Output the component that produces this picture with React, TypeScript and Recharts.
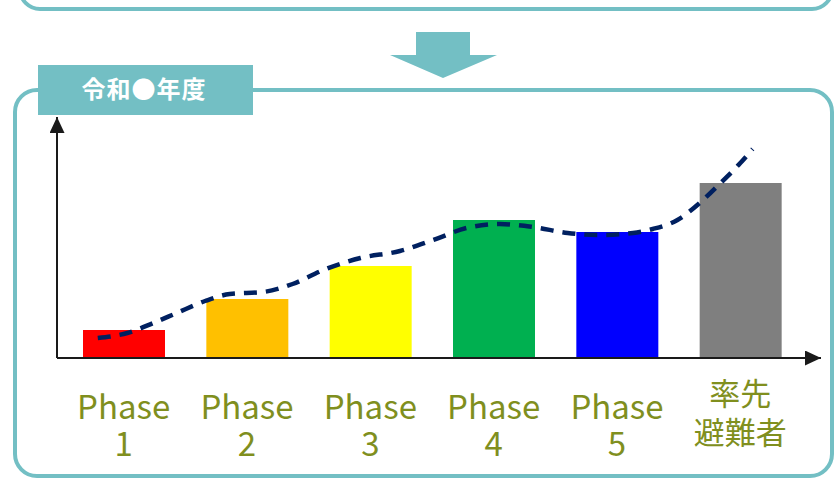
import React from 'react';
import { ComposedChart, Bar, Line, XAxis, YAxis, Cell } from 'recharts';

// bar categories and heights (y axis runs 0..241)
const categories = ['Phase 1', 'Phase 2', 'Phase 3', 'Phase 4', 'Phase 5', '率先避難者'];
const barValues = [28, 59, 92, 138, 126, 175];
const barColors = ['#FF0000', '#FFC000', '#FFFF00', '#00B050', '#0000FF', '#7F7F7F'];

// tick labels, two lines each
const tickLines = [
  ['Phase', '1'],
  ['Phase', '2'],
  ['Phase', '3'],
  ['Phase', '4'],
  ['Phase', '5'],
  ['率先', '避難者'],
];

// dashed trend curve: x is the category position (0 = first bar centre)
const trendX = [-0.21, 0.03, 0.24, 0.43, 0.66, 0.86, 1.13, 1.37, 1.62, 1.92, 2.24, 2.51, 2.78, 3.05, 3.32, 3.6, 3.86, 4.13, 4.29, 4.49, 4.67, 4.84, 5.0, 5.1];
const trendY = [20, 25, 35, 45, 57, 64, 66, 74, 88, 100, 107, 118, 130, 134, 131, 125, 123, 125, 129, 138, 155, 175, 195, 209];

const barData = categories.map((name, i) => ({ name, value: barValues[i] }));
const trendData = trendX.map((x, i) => ({ x, y: trendY[i] }));

const TEAL = '#73BFC4';
const OLIVE = '#808F1E';
const AXIS = '#1a1a1a';

const PhaseTick = (props: any) => {
  const { x, y, payload } = props;
  const lines = tickLines[payload.index] || [payload.value, ''];
  const isCjk = payload.index === 5;
  return (
    <text
      x={x}
      y={y + (isCjk ? 47 : 61)}
      textAnchor="middle"
      fill={OLIVE}
      fontSize={isCjk ? 31 : 33}
      fontFamily="'Noto Sans CJK JP', sans-serif"
    >
      <tspan x={x}>{lines[0]}</tspan>
      <tspan x={x} dy={isCjk ? 39 : 37}>{lines[1]}</tspan>
    </text>
  );
};

export default function App() {
  return (
    <div style={{ position: 'absolute', left: 0, top: 0, width: 834, height: 479, background: '#fff', overflow: 'hidden' }}>
      <svg width={0} height={0} style={{ position: 'absolute' }}>
        <defs>
          <marker
            id="arrowHead"
            viewBox="0 0 16 15"
            refX={16}
            refY={7.5}
            markerWidth={16}
            markerHeight={15}
            markerUnits="userSpaceOnUse"
            orient="auto-start-reverse"
          >
            <path d="M0,0 L16,7.5 L0,15 Z" fill={AXIS} />
          </marker>
        </defs>
      </svg>

      {/* frames, down arrow and title tab */}
      <svg width={834} height={479} style={{ position: 'absolute', left: 0, top: 0 }}>
        <rect x={20} y={-100} width={812} height={109} rx={20} fill="none" stroke={TEAL} strokeWidth={4} />
        <polygon points="416,32 470,32 470,55 497,55 443,78 390,55 416,55" fill={TEAL} />
        <rect x={15} y={90} width={817} height={386} rx={22} fill="none" stroke={TEAL} strokeWidth={4} />
        <rect x={38} y={65} width={215} height={50} fill={TEAL} />
        <text
          x={144}
          y={98}
          textAnchor="middle"
          fill="#fff"
          fontSize={24}
          fontWeight="bold"
          letterSpacing={1}
          fontFamily="'Noto Sans CJK JP', sans-serif"
        >
          令和●年度
        </text>
      </svg>

      <div style={{ position: 'absolute', left: 0, top: 0 }}>
        <ComposedChart width={834} height={479} data={barData} margin={{ top: 117, right: 13, bottom: 21, left: 56 }}>
          <XAxis
            xAxisId="cat"
            dataKey="name"
            type="category"
            height={100}
            interval={0}
            padding={{ left: 5, right: 19 }}
            axisLine={{ stroke: AXIS, strokeWidth: 2, markerEnd: 'url(#arrowHead)' }}
            tickLine={false}
            tickSize={0}
            tickMargin={0}
            tick={<PhaseTick />}
          />
          <XAxis
            xAxisId="num"
            dataKey="x"
            type="number"
            domain={[-0.5, 5.5]}
            padding={{ left: 5, right: 19 }}
            allowDataOverflow
            hide
          />
          <YAxis
            type="number"
            domain={[0, 241]}
            width={1}
            allowDataOverflow
            tick={false}
            tickLine={false}
            axisLine={{ stroke: AXIS, strokeWidth: 2, markerStart: 'url(#arrowHead)' }}
          />
          <Bar xAxisId="cat" dataKey="value" barSize={82} isAnimationActive={false}>
            {barData.map((d, i) => (
              <Cell key={d.name} fill={barColors[i]} />
            ))}
          </Bar>
          <Line
            xAxisId="num"
            data={trendData}
            dataKey="y"
            type="monotone"
            stroke="#002060"
            strokeWidth={4.5}
            strokeDasharray="13 9"
            dot={false}
            activeDot={false}
            isAnimationActive={false}
          />
        </ComposedChart>
      </div>
    </div>
  );
}
